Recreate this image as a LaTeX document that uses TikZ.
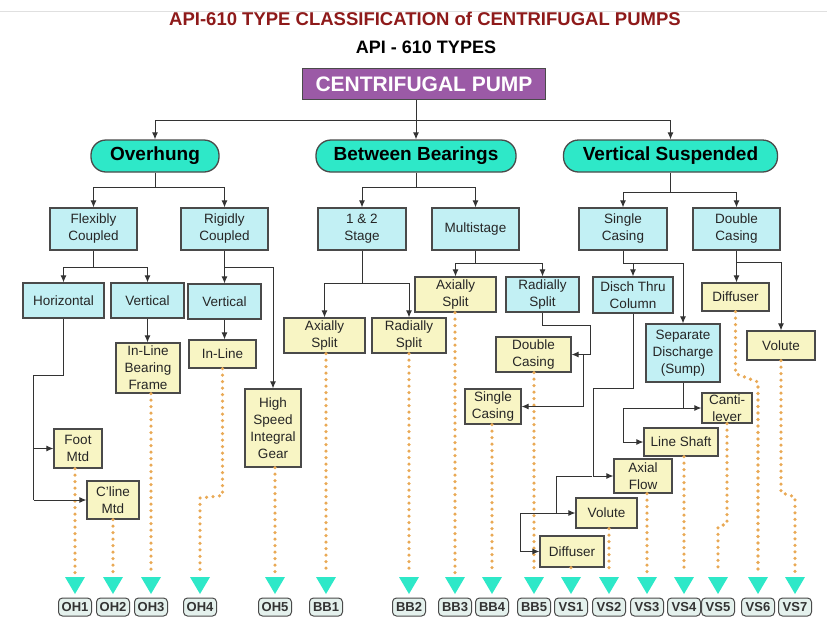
\documentclass[tikz,border=0pt]{standalone}
\usepackage{fontspec}
\setmainfont{Liberation Sans}
\usepackage{tikz}
\usetikzlibrary{calc,arrows.meta}

\definecolor{pillc}{HTML}{2EE8C8}
\definecolor{cyanc}{HTML}{C2F0F4}
\definecolor{yelc}{HTML}{F8F5C4}
\definecolor{dotc}{HTML}{E9A955}
\definecolor{purc}{HTML}{9B5AA6}
\definecolor{redc}{HTML}{8E1A1A}
\definecolor{codec}{HTML}{E4F1ED}
\definecolor{edgec}{HTML}{4A4A4A}

\tikzset{
  box/.style={draw=edgec,line width=1.2pt,inner sep=0pt,align=center,
    font=\fontsize{13.5}{17}\selectfont,text=black!85},
  cbox/.style={box,fill=cyanc},
  ybox/.style={box,fill=yelc},
  pill/.style={draw=edgec,line width=1.3pt,fill=pillc,rounded corners=15pt,
    inner sep=0pt,minimum height=32pt,font=\fontsize{19}{22}\bfseries},
  code/.style={draw=edgec,line width=1pt,fill=codec,rounded corners=4pt,inner sep=0pt,
    minimum width=33pt,minimum height=18pt,font=\fontsize{13}{14}\bfseries,text=black!80},
  wire/.style={draw=black!80,line width=1pt},
  link/.style={wire,-{Latex[length=7pt,width=6pt]}},
  dots/.style={dotc,line width=3.6pt,line cap=round,dash pattern=on 0pt off 6.5pt},
}

\begin{document}
\begin{tikzpicture}[x=1pt,y=-1pt]
		\useasboundingbox (0,0) rectangle (827,619);
		\draw[black!12,line width=0.8pt] (0,11) -- (827,11);
		% 标题
		\node[font=\fontsize{18.5}{20}\bfseries,text=redc] (title) at (425,19)
			{API-610 TYPE CLASSIFICATION of CENTRIFUGAL PUMPS};
		\node[font=\fontsize{18}{20}\bfseries] (types) at (426,47) {API - 610 TYPES};
		\node[draw=edgec,line width=1.3pt,fill=purc,text=white,inner sep=0pt,
			minimum width=243pt,minimum height=31pt,font=\fontsize{21}{24}\bfseries]
			(pump) at (424,84) {CENTRIFUGAL PUMP};
		% 三大类
		\node[pill,minimum width=128pt] (ov) at (155,156) {Overhung};
		\node[pill,minimum width=200pt] (bb) at (416,156) {Between Bearings};
		\node[pill,minimum width=214pt] (vs) at (670.5,156) {Vertical Suspended};
		% 悬臂式
		\node[cbox,minimum width=87pt,minimum height=42pt] (flex) at (93.5,229) {Flexibly\\Coupled};
		\node[cbox,minimum width=87pt,minimum height=42pt] (rigid) at (224.5,229) {Rigidly\\Coupled};
		\node[cbox,minimum width=81pt,minimum height=35pt] (horiz) at (63.5,300.5) {Horizontal};
		\node[cbox,minimum width=73pt,minimum height=35pt] (vertA) at (147.5,300.5) {Vertical};
		\node[cbox,minimum width=73pt,minimum height=35pt] (vertB) at (224.5,301.5) {Vertical};
		\node[ybox,minimum width=64pt,minimum height=50pt] (ilbf) at (148,368) {In-Line\\Bearing\\Frame};
		\node[ybox,minimum width=67pt,minimum height=28pt] (inl) at (222.5,354) {In-Line};
		\node[ybox,minimum width=56pt,minimum height=78pt] (hsig) at (273,428) {High\\Speed\\Integral\\Gear};
		\node[ybox,minimum width=48pt,minimum height=39pt] (foot) at (78,448.5) {Foot\\Mtd};
		\node[ybox,minimum width=52pt,minimum height=38pt] (cline) at (113,500) {C'line\\Mtd};
		% 两端支承式
		\node[cbox,minimum width=88pt,minimum height=42pt] (st12) at (362,229) {1 \& 2\\Stage};
		\node[cbox,minimum width=87pt,minimum height=42pt] (multi) at (475.5,229) {Multistage};
		\node[ybox,minimum width=81pt,minimum height=35pt] (asBB1) at (324.5,335.5) {Axially\\Split};
		\node[ybox,minimum width=74pt,minimum height=35pt] (rsBB2) at (409,335.5) {Radially\\Split};
		\node[ybox,minimum width=81pt,minimum height=35pt] (asBB3) at (455.5,294.5) {Axially\\Split};
		\node[cbox,minimum width=73pt,minimum height=35pt] (rsM) at (542.5,294.5) {Radially\\Split};
		\node[ybox,minimum width=75pt,minimum height=35pt] (dcBB5) at (533.5,354.5) {Double\\Casing};
		\node[ybox,minimum width=56pt,minimum height=35pt] (scBB4) at (493,406.5) {Single\\Casing};
		% 立式悬吊式
		\node[cbox,minimum width=88pt,minimum height=42pt] (scV) at (623,229) {Single\\Casing};
		\node[cbox,minimum width=87pt,minimum height=42pt] (dcV) at (736.5,229) {Double\\Casing};
		\node[cbox,minimum width=80pt,minimum height=36pt] (dtc) at (633,295) {Disch Thru\\Column};
		\node[cbox,minimum width=74pt,minimum height=58pt] (sds) at (683,353) {Separate\\Discharge\\(Sump)};
		\node[ybox,minimum width=67pt,minimum height=28pt] (difV6) at (735.5,297) {Diffuser};
		\node[ybox,minimum width=68pt,minimum height=29pt] (volV7) at (781,345.5) {Volute};
		\node[ybox,minimum width=50pt,minimum height=30pt] (cant) at (727,408) {Canti-\\lever};
		\node[ybox,minimum width=74pt,minimum height=28pt] (lsh) at (681,442) {Line Shaft};
		\node[ybox,minimum width=58pt,minimum height=34pt] (axf) at (643,476) {Axial\\Flow};
		\node[ybox,minimum width=61pt,minimum height=30pt] (volV2) at (606.5,513) {Volute};
		\node[ybox,minimum width=64pt,minimum height=31pt] (difV1) at (572,551.5) {Diffuser};
		% 型号编号
		\foreach \n/\x in {OH1/75,OH2/113,OH3/151,OH4/200,OH5/275,BB1/326,BB2/409,BB3/455,
			BB4/492,BB5/534,VS1/571,VS2/609,VS3/647,VS4/684,VS5/718,VS6/758,VS7/795} {
			\node[code] (\n) at (\x,607) {\n};
			\fill[pillc] (\x-10,577) -- (\x+10,577) -- (\x,594) -- cycle;
			\coordinate (\n-t) at (\x,573);
		}
		% 点线
		\draw[dots] (OH1-t |- foot.south) -- (OH1-t);
		\draw[dots] (OH2-t |- cline.south) -- (OH2-t);
		\draw[dots] (OH3-t |- ilbf.south) -- (OH3-t);
		\draw[dots] (inl.south) -- ++(0,127) -- ($(OH4-t)+(0,-75)$) -- (OH4-t);
		\draw[dots] (OH5-t |- hsig.south) -- (OH5-t);
		\draw[dots] (BB1-t |- asBB1.south) -- (BB1-t);
		\draw[dots] (BB2-t |- rsBB2.south) -- (BB2-t);
		\draw[dots] (BB3-t |- asBB3.south) -- (BB3-t);
		\draw[dots] (BB4-t |- scBB4.south) -- (BB4-t);
		\draw[dots] (BB5-t |- dcBB5.south) -- (BB5-t);
		\draw[dots] (VS1-t |- difV1.south) -- (VS1-t);
		\draw[dots] (VS2-t |- volV2.south) -- (VS2-t);
		\draw[dots] (VS3-t |- axf.south) -- (VS3-t);
		\draw[dots] (VS4-t |- lsh.south) -- (VS4-t);
		\draw[dots] (cant.south) -- ++(0,100) -- ($(VS5-t)+(0,-46)$) -- (VS5-t);
		\draw[dots] (difV6.south) -- ++(0,62) -- ($(VS6-t)+(0,-191)$) -- (VS6-t);
		\draw[dots] (volV7.south) -- ++(0,132) -- ($(VS7-t)+(0,-76)$) -- (VS7-t);
		% 连线
		\draw[wire] (bb.north |- pump.south) -- ++(0,20) coordinate (top);
		\draw[link] (top) -| (ov.north);
		\draw[link] (top) -- (bb.north);
		\draw[link] (top) -| (vs.north);
		% 悬臂式连线
		\draw[wire] (ov.south) -- ++(0,15) coordinate (ok);
		\draw[link] (ok) -| (flex.north);
		\draw[link] (ok) -| (rigid.north);
		\draw[wire] (flex.south) -- ++(0,17) coordinate (fk);
		\draw[link] (fk) -| (horiz.north);
		\draw[link] (fk) -| (vertA.north);
		\draw[link] (rigid.south) -- (vertB.north);
		\draw[link] ($(rigid.south)+(0,17)$) -| (hsig.north);
		\draw[link] (vertA.south) -- (vertA.south |- ilbf.north);
		\draw[link] (vertB.south) -- (vertB.south |- inl.north);
		\draw[wire] (horiz.south) -- ++(0,57) -- ++(-30,0) coordinate (hk) -- (hk |- cline.west);
		\draw[link] (hk |- foot.west) -- (foot.west);
		\draw[link] (hk |- cline.west) -- (cline.west);
		% 两端支承式连线
		\draw[wire] (bb.south) -- ++(0,15) coordinate (bk);
		\draw[link] (bk) -| (st12.north);
		\draw[link] (bk) -| (multi.north);
		\draw[wire] (st12.south) -- ++(0,33) coordinate (sk1);
		\draw[link] (sk1) -| (asBB1.north);
		\draw[link] (sk1) -| (rsBB2.north);
		\draw[wire] (multi.south) -- ++(0,13) coordinate (mk);
		\draw[link] (mk) -| (asBB3.north);
		\draw[link] (mk) -| (rsM.north);
		\draw[link] (rsM.south) -- ++(0,13) -| ($(dcBB5.east)+(19,0)$) -- (dcBB5.east);
		\draw[link] ($(dcBB5.east)+(12,0)$) |- (scBB4.east);
		% 立式悬吊式连线
		\draw[wire] (vs.south) -- ++(0,20) coordinate (vk);
		\draw[link] (vk) -| (scV.north);
		\draw[link] (vk) -| (dcV.north);
		\draw[wire] (scV.south) -- ++(0,13) coordinate (sk2);
		\draw[link] (sk2) -| (dtc.north);
		\draw[link] (sk2) -| (sds.north);
		\draw[link] (dcV.south) -- (dcV.south |- difV6.north);
		\draw[link] ($(dcV.south)+(0,12)$) -| (volV7.north);
		\draw[link] (sds.south) |- (cant.west);
		\draw[link] (sds.south |- cant.west) -- ++(-60,0) |- (lsh.west);
		\draw[link] (dtc.south) -- ++(0,75) -- ++(-40,0) |- (axf.west);
		\draw[link] ($(axf.west)+(-21,0)$) -- ++(-36,0) |- (volV2.west);
		\draw[link] ($(volV2.west)+(-19,0)$) -- ++(-36,0) |- (difV1.west);
\end{tikzpicture}
\end{document}
